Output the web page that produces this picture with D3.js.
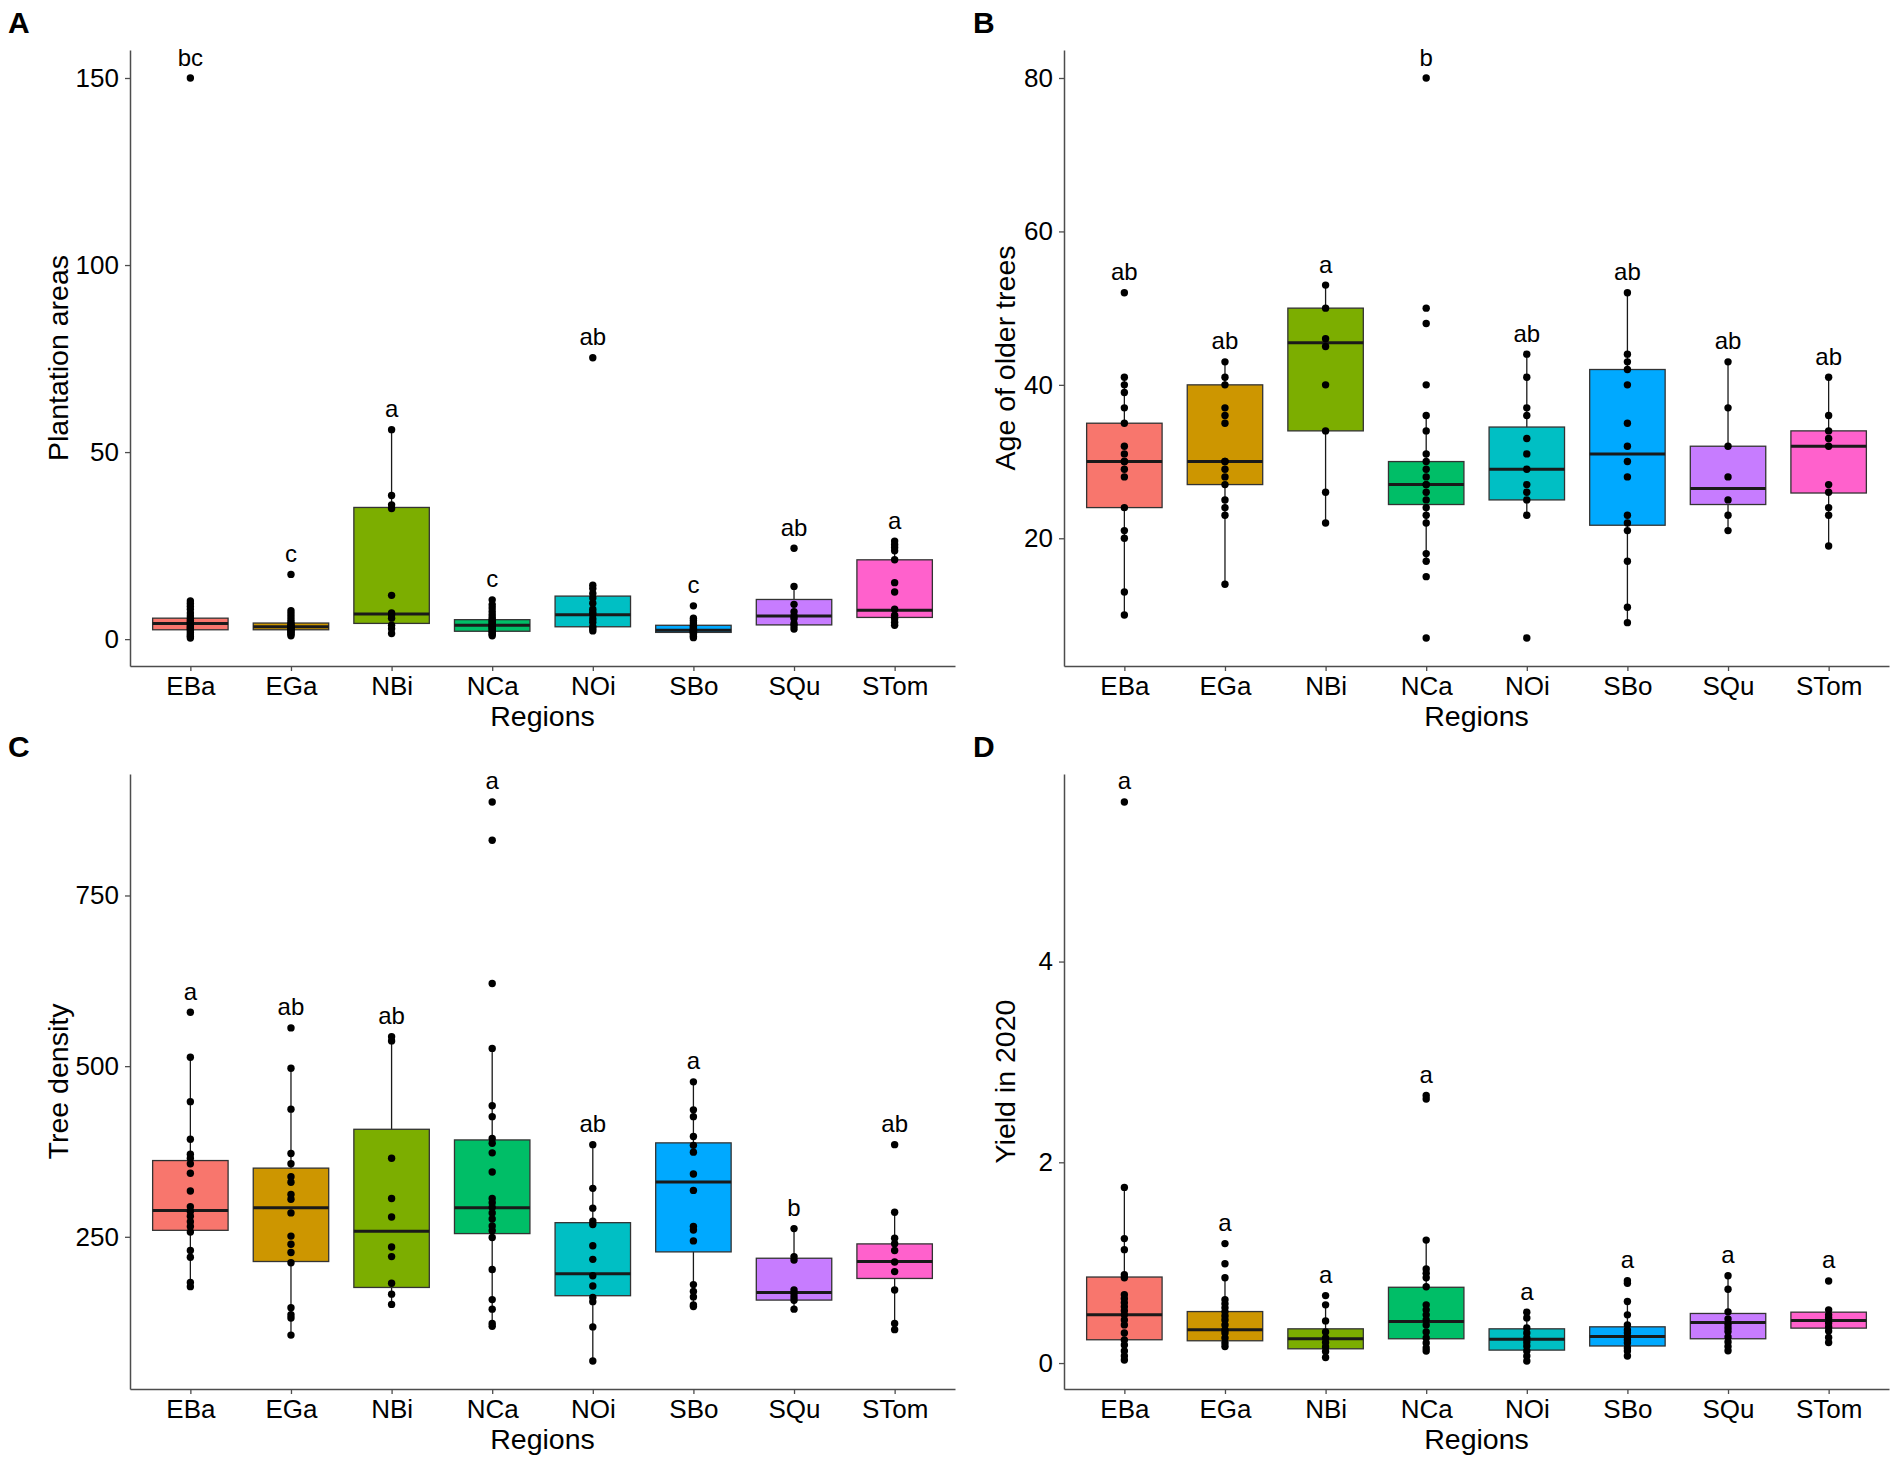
<!DOCTYPE html>
<html>
<head>
<meta charset="utf-8">
<script src="https://cdn.jsdelivr.net/npm/d3@7"></script>
<style>
  body { margin: 0; background: #fff; }
  svg { display: block; font-family: "Liberation Sans", Arial, sans-serif; }
</style>
</head>
<body>
<svg id="chart" width="1901" height="1468"></svg>
<script>
// Categories and colours (ggplot default hue palette)
const regions = ["EBa", "EGa", "NBi", "NCa", "NOi", "SBo", "SQu", "STom"];
const colors = ["#F8766D", "#CD9600", "#7CAE00", "#00BE67", "#00BFC4", "#00A9FF", "#C77CFF", "#FF61CC"];

// A - Plantation areas
const areaPoints = [
  [0.3, 0.8, 1.2, 1.8, 2.3, 2.7, 3.0, 3.3, 3.8, 4.2, 4.5, 5.0, 5.5, 6.2, 7.0, 8.0, 8.8, 9.5, 10.2, 150],
  [0.9, 1.3, 1.7, 2.0, 2.3, 2.6, 2.9, 3.1, 3.3, 3.6, 4.0, 4.5, 5.2, 6.0, 6.8, 7.6, 17.3],
  [1.5, 2.8, 3.7, 5.6, 6.5, 7.0, 11.7, 34.9, 35.9, 38.4, 56],
  [0.9, 1.3, 1.7, 2.1, 2.5, 2.9, 3.2, 3.5, 3.7, 4.0, 4.4, 4.8, 5.2, 5.8, 6.5, 7.4, 8.3, 9.2, 10.5],
  [2.2, 2.8, 3.3, 4.5, 5.4, 6.5, 7.2, 8.0, 9.6, 11.0, 12.2, 13.5, 14.4, 75.2],
  [0.4, 0.8, 1.2, 1.6, 1.8, 2.0, 2.2, 2.4, 2.7, 3.0, 3.4, 3.7, 4.3, 5.0, 5.6, 8.9],
  [2.7, 3.6, 4.2, 5.5, 6.2, 7.3, 9.3, 14.1, 24.3],
  [3.7, 4.5, 5.5, 6.4, 8.0, 12.6, 15.1, 21.2, 23.6, 24.5, 25.3, 26.2]
];
// [Q1, median, Q3]
const areaBoxes = [[2.5, 4.2, 5.6], [2.5, 3.3, 4.3], [4.2, 6.7, 35.2], [2.1, 3.7, 5.2],
  [3.3, 6.5, 11.5], [1.8, 2.4, 3.7], [3.8, 6.2, 10.6], [5.8, 7.7, 21.2]];
const areaLetters = ["bc", "c", "a", "c", "ab", "c", "ab", "a"];
const areaTicks = [0, 50, 100, 150];

// B - Age of older trees
const agePoints = [
  [10, 13, 20, 21, 24, 28, 29, 30, 30, 31, 32, 35, 37, 39, 40, 41, 52],
  [14, 23, 24, 25, 27, 28, 29, 30, 30, 35, 36, 37, 40, 41, 43],
  [22, 26, 34, 40, 45, 46, 50, 53],
  [7, 15, 17, 18, 22, 23, 24, 25, 26, 27, 27, 28, 29, 30, 31, 34, 36, 40, 48, 50, 80],
  [7, 23, 25, 26, 27, 29, 31, 33, 36, 37, 41, 44],
  [9, 11, 17, 21, 22, 23, 28, 30, 32, 35, 40, 42, 43, 44, 52],
  [21, 23, 25, 28, 32, 37, 43],
  [19, 23, 24, 26, 27, 32, 33, 34, 36, 41]
];
const ageBoxes = [[24, 30, 35], [27, 30, 40], [34, 45.5, 50], [24.4, 27, 30],
  [25, 29, 34.5], [21.7, 31, 42], [24.4, 26.5, 32], [25.9, 32, 34]];
const ageLetters = ["ab", "ab", "a", "b", "ab", "ab", "ab", "ab"];
const ageTicks = [20, 40, 60, 80];

// C - Tree density
const densityPoints = [
  [177, 183, 220, 230, 257, 265, 272, 280, 287, 294, 317, 343, 357, 365, 371, 393, 448, 513, 579],
  [106, 131, 136, 146, 212, 227, 239, 251, 285, 305, 312, 330, 338, 357, 372, 437, 497, 556],
  [151, 166, 182, 221, 235, 279, 306, 365, 537, 543],
  [119, 123, 144, 158, 202, 249, 259, 266, 276, 285, 293, 300, 306, 345, 373, 387, 394, 426, 442, 526, 621, 831, 887],
  [68, 118, 155, 161, 178, 193, 217, 237, 268, 273, 292, 321, 385],
  [148, 150, 162, 170, 180, 244, 260, 265, 318, 342, 374, 384, 397, 426, 436, 477],
  [144, 157, 162, 167, 172, 216, 221, 262],
  [114, 123, 172, 199, 213, 230, 240, 248, 286, 385]
];
const densityBoxes = [[259.5, 288.7, 361.7], [213.8, 292.6, 350.6], [175.8, 258.1, 407.5], [254.7, 292.6, 391.9],
  [163.7, 195.7, 270.7], [227.9, 330.1, 387.6], [157.3, 168.5, 218.6], [189, 213.8, 239.6]];
const densityLetters = ["a", "ab", "ab", "a", "ab", "a", "b", "ab"];
const densityTicks = [250, 500, 750];

// D - Yield in 2020
const yieldPoints = [
  [0.03, 0.07, 0.12, 0.18, 0.23, 0.30, 0.38, 0.43, 0.48, 0.52, 0.56, 0.60, 0.64, 0.68, 0.85, 0.88, 1.13, 1.24, 1.75, 5.59],
  [0.165, 0.20, 0.25, 0.30, 0.33, 0.38, 0.43, 0.47, 0.51, 0.55, 0.59, 0.63, 0.85, 0.99, 1.19],
  [0.056, 0.116, 0.16, 0.205, 0.25, 0.31, 0.42, 0.58, 0.672],
  [0.12, 0.15, 0.20, 0.25, 0.31, 0.38, 0.43, 0.48, 0.53, 0.58, 0.76, 0.85, 0.895, 0.937, 1.225, 2.63, 2.666],
  [0.02, 0.07, 0.12, 0.17, 0.21, 0.25, 0.30, 0.35, 0.45, 0.507],
  [0.07, 0.12, 0.15, 0.20, 0.23, 0.26, 0.30, 0.33, 0.38, 0.48, 0.613, 0.795, 0.82],
  [0.122, 0.165, 0.21, 0.26, 0.315, 0.35, 0.385, 0.44, 0.51, 0.735, 0.87],
  [0.205, 0.255, 0.32, 0.36, 0.40, 0.45, 0.48, 0.53, 0.818]
];
const yieldBoxes = [[0.232, 0.48, 0.857], [0.222, 0.331, 0.513], [0.142, 0.242, 0.341], [0.242, 0.414, 0.755],
  [0.129, 0.238, 0.341], [0.17, 0.265, 0.361], [0.242, 0.404, 0.494], [0.348, 0.424, 0.507]];
const yieldLetters = ["a", "a", "a", "a", "a", "a", "a", "a"];
const yieldTicks = [0, 2, 4];

const svg = d3.select("#chart");

// panel layout
const panels = [
  { tag: "A", title: "Plantation areas", points: areaPoints, boxes: areaBoxes, letters: areaLetters, ticks: areaTicks,
    x0: 130, x1: 955, y0: 50, y1: 666, tagX: 8, titleOff: 72 },
  { tag: "B", title: "Age of older trees", points: agePoints, boxes: ageBoxes, letters: ageLetters, ticks: ageTicks,
    x0: 1064, x1: 1889, y0: 50, y1: 666, tagX: 973, titleOff: 59 },
  { tag: "C", title: "Tree density", points: densityPoints, boxes: densityBoxes, letters: densityLetters, ticks: densityTicks,
    x0: 130, x1: 955, y0: 774, y1: 1389, tagX: 8, titleOff: 72 },
  { tag: "D", title: "Yield in 2020", points: yieldPoints, boxes: yieldBoxes, letters: yieldLetters, ticks: yieldTicks,
    x0: 1064, x1: 1889, y0: 774, y1: 1389, tagX: 973, titleOff: 59 }
];

panels.forEach(drawPanel);

function drawPanel(p) {
  const g = svg.append("g");

  // ggplot style 5% expansion of the data range
  const [lo, hi] = d3.extent(p.points.flat());
  const pad = (hi - lo) * 0.05;

  const x = d3.scalePoint().domain(regions).range([p.x0, p.x1]).padding(0.6);
  const y = d3.scaleLinear().domain([lo - pad, hi + pad]).range([p.y1, p.y0]);
  const bw = x.step() * 0.75;

  const stats = regions.map((r, i) => {
    const [q1, med, q3] = p.boxes[i];
    const iqr = q3 - q1;
    const pts = p.points[i];
    const lower = d3.min(pts.filter(v => v >= q1 - 1.5 * iqr));
    const upper = d3.max(pts.filter(v => v <= q3 + 1.5 * iqr));
    return { region: r, color: colors[i], q1, med, q3, lower, upper, pts, letter: p.letters[i], max: d3.max(pts) };
  });

  // whiskers
  g.append("g").selectAll("line")
    .data(stats)
    .join("line")
    .attr("x1", d => x(d.region))
    .attr("x2", d => x(d.region))
    .attr("y1", d => y(d.lower))
    .attr("y2", d => y(d.upper))
    .attr("stroke", "#1a1a1a")
    .attr("stroke-width", 1.3);

  // boxes
  g.append("g").selectAll("rect")
    .data(stats)
    .join("rect")
    .attr("x", d => x(d.region) - bw / 2)
    .attr("width", bw)
    .attr("y", d => y(d.q3))
    .attr("height", d => y(d.q1) - y(d.q3))
    .attr("fill", d => d.color)
    .attr("stroke", "#333")
    .attr("stroke-width", 1.3);

  // medians
  g.append("g").selectAll("line")
    .data(stats)
    .join("line")
    .attr("x1", d => x(d.region) - bw / 2)
    .attr("x2", d => x(d.region) + bw / 2)
    .attr("y1", d => y(d.med))
    .attr("y2", d => y(d.med))
    .attr("stroke", "#1a1a1a")
    .attr("stroke-width", 3);

  // points
  g.append("g").selectAll("circle")
    .data(stats.flatMap(d => d.pts.map(v => ({ region: d.region, v }))))
    .join("circle")
    .attr("cx", d => x(d.region))
    .attr("cy", d => y(d.v))
    .attr("r", 3.7)
    .attr("fill", "#000");

  // significance letters
  g.append("g").selectAll("text")
    .data(stats)
    .join("text")
    .attr("x", d => x(d.region))
    .attr("y", d => y(d.max) - 12.5)
    .attr("text-anchor", "middle")
    .attr("font-size", 24)
    .attr("fill", "#000")
    .text(d => d.letter);

  // axes
  const xAxis = g.append("g")
    .attr("transform", `translate(0,${p.y1})`)
    .call(d3.axisBottom(x).tickSize(5).tickSizeOuter(0).tickPadding(6));
  const yAxis = g.append("g")
    .attr("transform", `translate(${p.x0},0)`)
    .call(d3.axisLeft(y).tickValues(p.ticks).tickSize(5).tickSizeOuter(0).tickPadding(6).tickFormat(d3.format("~g")));

  [xAxis, yAxis].forEach(a => {
    a.attr("font-family", null).attr("font-size", null);
    a.select(".domain").attr("stroke", "#4d4d4d").attr("stroke-width", 1.5);
    a.selectAll(".tick line").attr("stroke", "#4d4d4d").attr("stroke-width", 1.3);
    a.selectAll(".tick text").attr("font-size", 26).attr("fill", "#000");
  });

  // axis titles
  g.append("text")
    .attr("x", (p.x0 + p.x1) / 2)
    .attr("y", p.y1 + 60)
    .attr("text-anchor", "middle")
    .attr("font-size", 28.5)
    .text("Regions");

  g.append("text")
    .attr("transform", `translate(${p.x0 - p.titleOff + 10},${(p.y0 + p.y1) / 2}) rotate(-90)`)
    .attr("text-anchor", "middle")
    .attr("font-size", 28.5)
    .text(p.title);

  // panel tag
  g.append("text")
    .attr("x", p.tagX)
    .attr("y", p.y0 - 17)
    .attr("font-size", 30)
    .attr("font-weight", "bold")
    .text(p.tag);
}
</script>
</body>
</html>
